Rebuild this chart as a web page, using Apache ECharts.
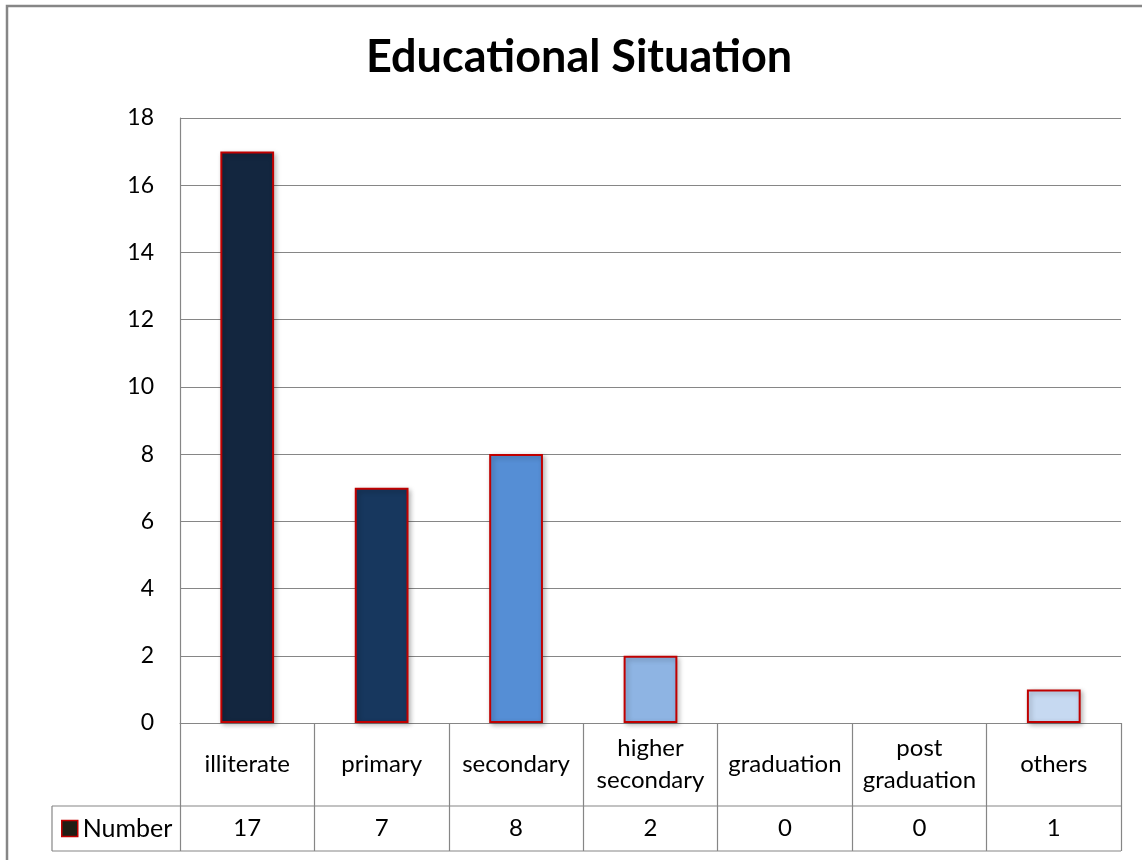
<!DOCTYPE html>
<html>
<head>
<meta charset="utf-8">
<script src="https://cdn.jsdelivr.net/npm/echarts@6/dist/echarts.min.js"></script>
<style>
  html, body { margin: 0; padding: 0; background: #fff; }
  #chart { width: 1142px; height: 860px; }
</style>
</head>
<body>
<div id="chart"></div>
<script>
// Education level counts
const categories = ['illiterate', 'primary', 'secondary', 'higher\nsecondary', 'graduation', 'post\ngraduation', 'others'];
const values = [17, 7, 8, 2, 0, 0, 1];
const seriesName = 'Number';
const yTicks = { min: 0, max: 18, interval: 2 };

// Styling
const barColors = ['#13263F', '#17375E', '#558ED5', '#8EB4E3', '#B9CDE5', '#B9CDE5', '#C6D9F1'];
const lineGray = '#868686';
const font = 'Lato, "Open Sans", sans-serif';

const W = 1142, H = 860;
const grid = { left: 180, top: 118, right: 21, bottom: 137 };
const plotRight = W - grid.right;
const axisY = H - grid.bottom;       // y of the category axis
const row1 = 83;                     // height of category-label row
const row2 = 45;                     // height of value row
const legendCellLeft = 52;

const chart = echarts.init(document.getElementById('chart'), null, { renderer: 'canvas' });

const barData = values.map((v, i) => ({
  value: v,
  itemStyle: { color: barColors[i], borderWidth: v === 0 ? 0 : 2 }
}));

chart.setOption({
  animation: false,
  backgroundColor: '#fff',
  title: {
    text: 'Educational Situation',
    left: 366,
    top: 35,
    padding: 0,
    textStyle: { fontFamily: font, fontWeight: 'bold', fontSize: 45, color: '#000' }
  },
  legend: {
    data: [{ name: seriesName, itemStyle: { color: '#1E1E14', borderColor: '#C00000', borderWidth: 1.5 } }],
    left: 61,
    top: axisY + row1 + 10,
    padding: 0,
    icon: 'rect',
    itemWidth: 16,
    itemHeight: 16,
    itemGap: 6,
    textStyle: { fontFamily: font, fontSize: 25, color: '#000' }
  },
  grid: { left: grid.left, top: grid.top, right: grid.right, bottom: grid.bottom },
  xAxis: [
    {
      type: 'category',
      data: categories,
      position: 'bottom',
      axisLine: { show: true, lineStyle: { color: lineGray, width: 1 } },
      axisTick: { show: true, length: row1 + row2, inside: false, lineStyle: { color: lineGray, width: 1.2 } },
      axisLabel: {
        interval: 0,
        margin: row1 / 2,
        verticalAlign: 'middle',
        fontFamily: font,
        fontSize: 24,
        lineHeight: 32,
        color: '#000'
      }
    },
    {
      type: 'category',
      data: values.map(String),
      position: 'bottom',
      axisLine: { show: false },
      axisTick: { show: false },
      axisLabel: {
        interval: 0,
        margin: row1 + row2 / 2,
        verticalAlign: 'middle',
        fontFamily: font,
        fontSize: 24,
        color: '#000'
      }
    }
  ],
  yAxis: {
    type: 'value',
    min: yTicks.min,
    max: yTicks.max,
    interval: yTicks.interval,
    axisLine: { show: true, lineStyle: { color: lineGray, width: 1.2 } },
    axisTick: { show: false },
    axisLabel: { margin: 26, fontFamily: font, fontSize: 23, color: '#000' },
    splitLine: { show: true, lineStyle: { color: lineGray, width: 1.2 } }
  },
  series: [{
    name: seriesName,
    type: 'bar',
    xAxisIndex: 0,
    data: barData,
    barWidth: '40%',
    itemStyle: {
      borderColor: '#C00000',
      borderWidth: 2,
      shadowBlur: 5,
      shadowColor: 'rgba(0,0,0,0.28)',
      shadowOffsetX: 2,
      shadowOffsetY: 2
    }
  }],
  graphic: [
    // chart frame
    { type: 'rect', shape: { x: 7, y: 6, width: W + 20, height: H + 20 }, style: { fill: null, stroke: lineGray, lineWidth: 2.5 }, silent: true },
    // data table rules
    { type: 'line', shape: { x1: legendCellLeft, y1: axisY + row1, x2: plotRight, y2: axisY + row1 }, style: { stroke: lineGray, lineWidth: 1.2 }, silent: true },
    { type: 'line', shape: { x1: legendCellLeft, y1: axisY + row1 + row2, x2: plotRight, y2: axisY + row1 + row2 }, style: { stroke: lineGray, lineWidth: 1.2 }, silent: true },
    { type: 'line', shape: { x1: legendCellLeft, y1: axisY + row1, x2: legendCellLeft, y2: axisY + row1 + row2 }, style: { stroke: lineGray, lineWidth: 1.2 }, silent: true }
  ]
});
</script>
</body>
</html>
